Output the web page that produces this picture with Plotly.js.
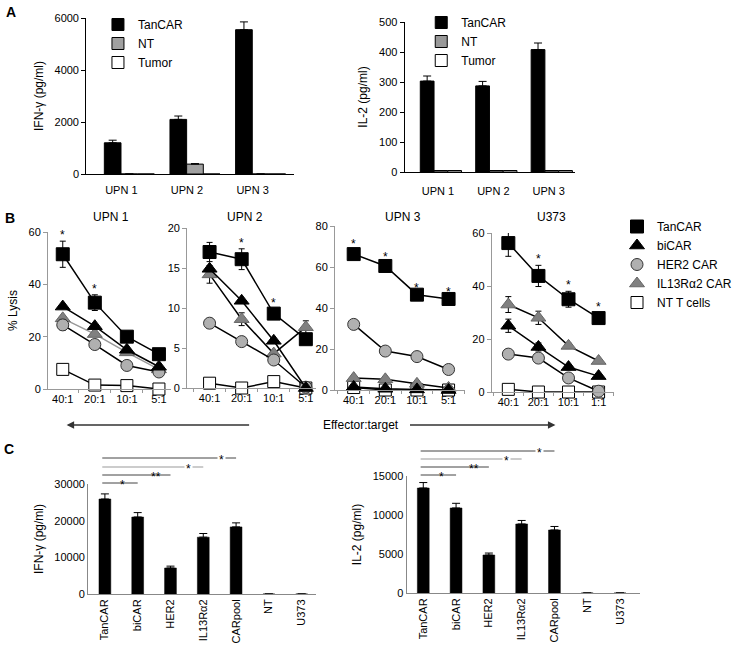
<!DOCTYPE html>
<html><head><meta charset="utf-8">
<script src="https://cdn.plot.ly/plotly-3.0.1.min.js"></script>
<style>body{margin:0;background:#fff}#chart{width:737px;height:650px}</style>
</head><body><div id="chart"></div>
<script>
// ---------- Panel A data ----------
const upnCats = ['UPN 1', 'UPN 2', 'UPN 3'];
const ifnA_TanCAR = [1200, 2100, 5550];
const ifnA_TanCAR_err = [100, 130, 300];
const ifnA_NT = [0, 380, 0];
const ifnA_NT_err = [0, 20, 0];
const ifnA_Tumor = [0, 0, 0];
const il2A_TanCAR = [303, 287, 408];
const il2A_TanCAR_err = [17, 15, 22];
const il2A_NT = [5, 5, 5];
const il2A_Tumor = [5, 5, 5];

// ---------- Panel B data ----------
const ratiosUPN = ['40:1', '20:1', '10:1', '5:1'];
const ratiosU373 = ['40:1', '20:1', '10:1', '1:1'];
const seriesNames = ['TanCAR', 'biCAR', 'HER2 CAR', 'IL13R\u03b12 CAR', 'NT T cells'];

const upn1_TanCAR = [51.5, 33, 20, 13.3];   const upn1_TanCAR_err = [5, 3, 0.5, 0.5];
const upn1_biCAR = [31.5, 24, 15, 8.5];
const upn1_HER2 = [24.5, 17, 9, 6.5];        const upn1_HER2_err = [2, 1, 0, 0];
const upn1_IL13 = [27, 21, 14, 7.5];
const upn1_NT = [7.5, 1.5, 1.3, 0];

const upn2_TanCAR = [17, 16.1, 9.3, 6.1];    const upn2_TanCAR_err = [1.2, 1.3, 0.6, 0];
const upn2_biCAR = [14.9, 10.9, 5.9, 0];
const upn2_HER2 = [8.1, 5.8, 3.5, 0.1];      const upn2_HER2_err = [0.6, 0.2, 0, 0];
const upn2_IL13 = [14.2, 8.6, 4.3, 7.6];     const upn2_IL13_err = [1.1, 0.8, 0.3, 0.8];
const upn2_NT = [0.6, 0, 0.8, 0];

const upn3_TanCAR = [66.3, 60.5, 46.5, 44.4]; const upn3_TanCAR_err = [2, 1.5, 0.5, 0.5];
const upn3_biCAR = [1.5, 0.6, 0.3, 0];
const upn3_HER2 = [32, 19, 16.3, 10];         const upn3_HER2_err = [2, 0, 0, 0];
const upn3_IL13 = [5.8, 5.2, 3, 1];
const upn3_NT = [1.2, 0, 0, 0];

const u373_TanCAR = [56.2, 43.8, 35, 27.9];  const u373_TanCAR_err = [5, 4, 3, 2];
const u373_biCAR = [25, 17, 9.4, 6];         const u373_biCAR_err = [2.5, 1.5, 1, 0.5];
const u373_HER2 = [14.3, 12.8, 5.3, 0.3];
const u373_IL13 = [33, 28, 17.4, 11.7];      const u373_IL13_err = [3, 2.5, 1, 0.5];
const u373_NT = [1, 0, 0, 0];

const upn1_stars = [0, 1];
const upn2_stars = [1, 2];
const upn3_stars = [0, 1, 2, 3];
const u373_stars = [0, 1, 2, 3];

// ---------- Panel C data ----------
const cCats = ['TanCAR', 'biCAR', 'HER2', 'IL13R\u03b12', 'CARpool', 'NT', 'U373'];
const ifnC = [25900, 21000, 7100, 15500, 18300, 0, 0];
const ifnC_err = [1400, 1200, 500, 1000, 1100, 0, 0];
const il2C = [13460, 10900, 4870, 8850, 8080, 0, 0];
const il2C_err = [700, 600, 250, 450, 450, 0, 0];
const ifnC_ticks = [0, 10000, 20000, 30000];
const ifnC_tickText = ['0', '10000', '20000', '30000'];
const il2C_ticks = [0, 5000, 10000, 15000];
const il2C_tickText = ['0', '5000', '10000', '15000'];
const sigTargets = [1, 2, 3, 4];
const sigLabels = ['*', '**', '*', '*'];

// ---------- helpers ----------
const W = 737, H = 650;
const px = v => v / W;
const py = v => 1 - v / H;
const FONT = '"Liberation Sans", Arial, Helvetica, sans-serif';
const zeros = n => new Array(n).fill(0);

const traces = [];

// Panel A bars
function barTrace(x, y, err, name, color, xa, ya, width, offset, legend) {
  const t = {type: 'bar', x: x, y: y, name: name, xaxis: xa, yaxis: ya,
    width: width, offset: offset, legend: legend, showlegend: true,
    marker: {color: color, line: {color: '#000', width: 1}}, hoverinfo: 'skip'};
  if (err) t.error_y = {type: 'data', array: err, arrayminus: zeros(err.length), symmetric: false,
    color: '#000', thickness: 1, width: 4};
  return t;
}
traces.push(barTrace(upnCats, ifnA_TanCAR, ifnA_TanCAR_err, 'TanCAR', '#000', 'x', 'y', 0.254, -0.381, 'legend'));
traces.push(barTrace(upnCats, ifnA_NT, ifnA_NT_err, 'NT', '#a0a0a0', 'x', 'y', 0.254, -0.127, 'legend'));
traces.push(barTrace(upnCats, ifnA_Tumor, null, 'Tumor', '#fff', 'x', 'y', 0.254, 0.127, 'legend'));
traces.push(barTrace(upnCats, il2A_TanCAR, il2A_TanCAR_err, 'TanCAR', '#000', 'x2', 'y2', 0.248, -0.372, 'legend2'));
traces.push(barTrace(upnCats, il2A_NT, null, 'NT', '#999', 'x2', 'y2', 0.248, -0.124, 'legend2'));
traces.push(barTrace(upnCats, il2A_Tumor, null, 'Tumor', '#fff', 'x2', 'y2', 0.248, 0.124, 'legend2'));

// Panel B styles
const bStyle = {
  'TanCAR': {symbol: 'square', size: 13, color: '#000', lc: '#000'},
  'biCAR': {symbol: 'triangle-up', size: 13, color: '#000', lc: '#000'},
  'HER2 CAR': {symbol: 'circle', size: 12, color: '#b0b0b0', lc: '#333'},
  'IL13R\u03b12 CAR': {symbol: 'triangle-up', size: 13, color: '#808080', lc: '#666'},
  'NT T cells': {symbol: 'square', size: 12, color: '#fff', lc: '#000'}
};
function lineTrace(x, y, err, name, xa, ya, lineColor) {
  const s = bStyle[name];
  const t = {type: 'scatter', mode: 'lines+markers', x: x, y: y, xaxis: xa, yaxis: ya, name: name,
    showlegend: false, cliponaxis: false, hoverinfo: 'skip',
    line: {color: lineColor || '#000', width: 1.5},
    marker: {symbol: s.symbol, size: s.size, color: s.color, line: {color: s.lc, width: 1}}};
  if (err) t.error_y = {type: 'data', array: err, symmetric: true, color: '#000', thickness: 1, width: 3};
  return t;
}
const bPanels = [
  {xa: 'x3', ya: 'y3', cats: ratiosUPN, NT: upn1_NT, IL13: upn1_IL13, HER2: upn1_HER2, HER2e: upn1_HER2_err,
   bi: upn1_biCAR, tan: upn1_TanCAR, tane: upn1_TanCAR_err, il13Line: '#999', stars: upn1_stars},
  {xa: 'x4', ya: 'y4', cats: ratiosUPN, NT: upn2_NT, IL13: upn2_IL13, IL13e: upn2_IL13_err, HER2: upn2_HER2, HER2e: upn2_HER2_err,
   bi: upn2_biCAR, tan: upn2_TanCAR, tane: upn2_TanCAR_err, stars: upn2_stars},
  {xa: 'x5', ya: 'y5', cats: ratiosUPN, NT: upn3_NT, IL13: upn3_IL13, HER2: upn3_HER2, HER2e: upn3_HER2_err,
   bi: upn3_biCAR, tan: upn3_TanCAR, tane: upn3_TanCAR_err, stars: upn3_stars},
  {xa: 'x6', ya: 'y6', cats: ratiosU373, NT: u373_NT, IL13: u373_IL13, IL13e: u373_IL13_err, HER2: u373_HER2,
   bi: u373_biCAR, bie: u373_biCAR_err, tan: u373_TanCAR, tane: u373_TanCAR_err, stars: u373_stars}
];
const annotations = [];
bPanels.forEach(p => {
  traces.push(lineTrace(p.cats, p.NT, null, 'NT T cells', p.xa, p.ya));
  traces.push(lineTrace(p.cats, p.IL13, p.IL13e, 'IL13R\u03b12 CAR', p.xa, p.ya, p.il13Line));
  traces.push(lineTrace(p.cats, p.HER2, p.HER2e, 'HER2 CAR', p.xa, p.ya));
  traces.push(lineTrace(p.cats, p.bi, p.bie, 'biCAR', p.xa, p.ya));
  traces.push(lineTrace(p.cats, p.tan, p.tane, 'TanCAR', p.xa, p.ya));
  p.stars.forEach(i => {
    annotations.push({xref: p.xa, yref: p.ya, x: p.cats[i], y: p.tan[i] + p.tane[i], text: '*',
      showarrow: false, yanchor: 'bottom', yshift: -3, font: {family: FONT, size: 12, color: '#000'}});
  });
});
// legend-only entries for panel B (marker only)
seriesNames.forEach(n => {
  const s = bStyle[n];
  traces.push({type: 'scatter', mode: 'markers', x: [null], y: [null], xaxis: 'x3', yaxis: 'y3', name: n,
    legend: 'legend3', showlegend: true,
    marker: {symbol: s.symbol, size: s.size, color: s.color, line: {color: s.lc, width: 1}}});
});

// Panel C bars
function cBar(y, err, xa, ya) {
  return {type: 'bar', x: cCats, y: y, xaxis: xa, yaxis: ya, width: 0.36, offset: -0.18, showlegend: false,
    marker: {color: '#000', line: {color: '#000', width: 0.5}}, hoverinfo: 'skip',
    error_y: {type: 'data', array: err, arrayminus: zeros(err.length), symmetric: false, color: '#000', thickness: 1, width: 4}};
}
traces.push(cBar(ifnC, ifnC_err, 'x7', 'y7'));
traces.push(cBar(il2C, il2C_err, 'x8', 'y8'));

// significance lines (panel C)
const shapes = [];
const sigColors = ['#444', '#444', '#999', '#444'];
const sigYLeft = [483, 475, 467, 458];
const sigYRight = [475, 467, 459, 451];
[['x7', sigYLeft], ['x8', sigYRight]].forEach(([xa, ys]) => {
  sigTargets.forEach((k, i) => {
    shapes.push({type: 'line', xref: xa, yref: 'paper', x0: -0.08, x1: k, y0: py(ys[i]), y1: py(ys[i]),
      line: {color: sigColors[i], width: 1}});
    annotations.push({xref: xa, yref: 'paper', x: k - 0.45, y: py(ys[i]), text: sigLabels[i], showarrow: false,
      yanchor: 'middle', yshift: -2, bgcolor: i >= 2 ? '#fff' : 'rgba(0,0,0,0)', borderpad: 1,
      font: {family: FONT, size: 12, color: '#000'}});
  });
});

// Text annotations
const txt = (x, y, t, size, bold) => ({xref: 'paper', yref: 'paper', x: px(x), y: py(y), text: bold ? '<b>' + t + '</b>' : t,
  showarrow: false, xanchor: 'center', yanchor: 'middle', font: {family: FONT, size: size, color: '#000'}});
annotations.push(txt(11, 12, 'A', 14, true));
annotations.push(txt(10, 218, 'B', 14, true));
annotations.push(txt(9, 449, 'C', 14, true));
annotations.push(txt(113, 217, 'UPN 1', 12));
annotations.push(txt(250, 217, 'UPN 2', 12));
annotations.push(txt(411, 217, 'UPN 3', 12));
annotations.push(txt(563, 217, 'U373', 12));
annotations.push(txt(369, 425, 'Effector:target', 12));
annotations.push({xref: 'paper', yref: 'paper', x: px(68), y: py(425), text: '', showarrow: true, arrowhead: 2,
  arrowsize: 1, arrowwidth: 1.5, arrowcolor: '#333', ax: 184, ay: 0, standoff: 0});
annotations.push({xref: 'paper', yref: 'paper', x: px(567), y: py(425), text: '', showarrow: true, arrowhead: 2,
  arrowsize: 1, arrowwidth: 1.5, arrowcolor: '#333', ax: -147, ay: 0, standoff: 0});

// Axes
const tf = {family: FONT, size: 11, color: '#000'};
function yax(dom, range, dtick, title, lc, ticks) {
  return {domain: dom, range: range, dtick: dtick, showgrid: false, zeroline: false, showline: true,
    linecolor: lc, linewidth: 1, ticks: ticks, ticklen: 4, tickcolor: lc, tickfont: tf,
    exponentformat: 'none', separatethousands: false, fixedrange: true,
    title: title ? {text: title, font: {family: FONT, size: 12, color: '#000'}, standoff: 8} : undefined};
}
function xax(dom, range, extra) {
  return Object.assign({domain: dom, range: range, type: 'category', showgrid: false, zeroline: false,
    showline: true, linecolor: '#000', linewidth: 1, ticks: '', tickfont: tf, fixedrange: true}, extra || {});
}
const bX = {linecolor: '#999', ticks: 'outside', tickson: 'boundaries', ticklen: 3, tickcolor: '#999', tickangle: 0};
const layout = {
  width: W, height: H, margin: {l: 0, r: 0, t: 0, b: 0}, paper_bgcolor: '#fff', plot_bgcolor: 'rgba(0,0,0,0)',
  barmode: 'overlay', font: {family: FONT, size: 11, color: '#000'},
  xaxis: xax([px(88), px(300)], [-0.657, 2.507], {anchor: 'y', ticklabelshift: -8, ticklabelstandoff: 6}),
  yaxis: Object.assign(yax([py(174), py(18)], [0, 6000], 2000, 'IFN-\u03b3 (pg/ml)', '#000', 'outside'), {anchor: 'x'}),
  xaxis2: xax([px(413), px(587)], [-0.655, 2.42], {anchor: 'y2', ticklabelshift: -3, ticklabelstandoff: 9}),
  yaxis2: Object.assign(yax([py(172), py(22)], [0, 500], 100, 'IL-2 (pg/ml)', '#000', 'outside'), {anchor: 'x2'}),
  xaxis3: xax([px(49), px(175)], [-0.46, 3.39], Object.assign({anchor: 'y3'}, bX)),
  yaxis3: Object.assign(yax([py(389), py(232)], [0, 60], 20, '% Lysis', '#999', 'outside'), {anchor: 'x3'}),
  xaxis4: xax([px(191), px(323)], [-0.70, 3.33], Object.assign({anchor: 'y4'}, bX)),
  yaxis4: Object.assign(yax([py(388), py(228)], [0, 20], 5, null, '#999', 'outside'), {anchor: 'x4'}),
  xaxis5: xax([px(342), px(475)], [-0.59, 3.53], Object.assign({anchor: 'y5'}, bX)),
  yaxis5: Object.assign(yax([py(390), py(226)], [0, 80], 20, null, '#999', 'outside'), {anchor: 'x5'}),
  xaxis6: xax([px(502), px(627)], [-0.55, 3.52], Object.assign({anchor: 'y6'}, bX)),
  yaxis6: Object.assign(yax([py(392), py(233)], [0, 60], 20, null, '#999', 'outside'), {anchor: 'x6'}),
  xaxis7: xax([px(90), px(323)], [-0.51, 6.45], {anchor: 'y7', tickangle: -90, linecolor: '#888'}),
  yaxis7: Object.assign(yax([py(594), py(484)], [0, 30000], 10000, 'IFN-\u03b3 (pg/ml)', '#888', ''),
    {anchor: 'x7', tickmode: 'array', tickvals: ifnC_ticks, ticktext: ifnC_tickText}),
  xaxis8: xax([px(415), px(653)], [-0.51, 6.6], {anchor: 'y8', tickangle: -90, linecolor: '#888'}),
  yaxis8: Object.assign(yax([py(593), py(476)], [0, 15000], 5000, 'IL-2 (pg/ml)', '#888', ''),
    {anchor: 'x8', tickmode: 'array', tickvals: il2C_ticks, ticktext: il2C_tickText}),
  legend: {x: px(100), y: py(10), xanchor: 'left', yanchor: 'top', bgcolor: 'rgba(0,0,0,0)',
    font: {family: FONT, size: 12, color: '#000'}, itemclick: false},
  legend2: {x: px(430), y: py(8), xanchor: 'left', yanchor: 'top', bgcolor: 'rgba(0,0,0,0)',
    font: {family: FONT, size: 12, color: '#000'}, itemclick: false},
  legend3: {x: px(630), y: py(212), xanchor: 'left', yanchor: 'top', bgcolor: 'rgba(0,0,0,0)',
    font: {family: FONT, size: 12, color: '#000'}, itemclick: false},
  annotations: annotations, shapes: shapes, showlegend: true
};
Plotly.newPlot('chart', traces, layout, {displayModeBar: false, staticPlot: true});
</script>
</body></html>
